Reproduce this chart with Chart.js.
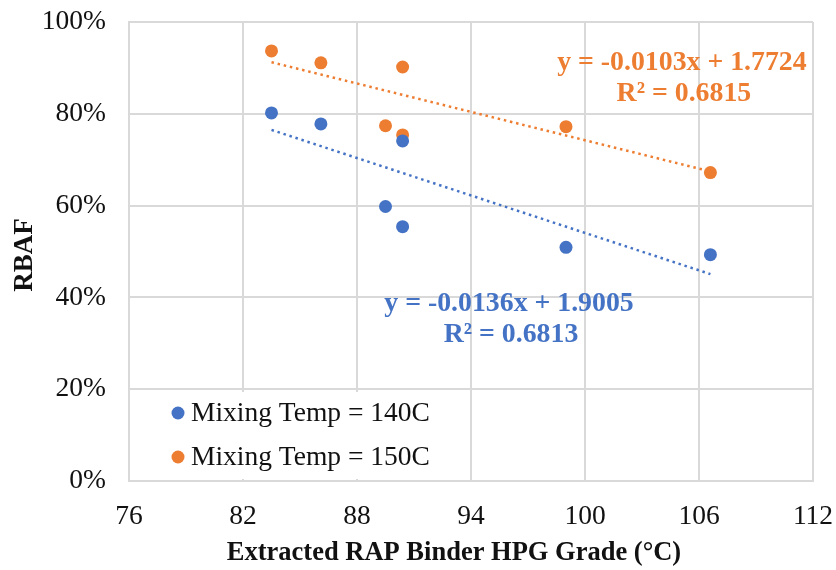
<!DOCTYPE html>
<html>
<head>
<meta charset="utf-8">
<title>RBAF vs RAP binder grade</title>
<script src="https://cdn.jsdelivr.net/npm/chart.js@4"></script>
<style>
  html, body { margin: 0; padding: 0; background: #fff; }
  #wrap { width: 836px; height: 570px; }
</style>
</head>
<body>
<div id="wrap"><canvas id="rbafChart" width="836" height="570"></canvas></div>
<script>
// extracted RAP binder high PG grade (°C)
const binderGrade = [83.5, 86.1, 90.4, 89.5, 90.4, 99.0, 106.6];

// RBAF at each mixing temperature
const rbaf140 = [0.802, 0.778, 0.741, 0.598, 0.554, 0.509, 0.493];
const rbaf150 = [0.937, 0.911, 0.902, 0.774, 0.754, 0.772, 0.672];

const seriesLabels = ["Mixing Temp = 140C", "Mixing Temp = 150C"];

// linear trendlines y = m*x + b
const trendSlope = [-0.0136, -0.0103];
const trendIntercept = [1.9005, 1.7724];
const trendR2 = [0.6813, 0.6815];

const xTicks = [76, 82, 88, 94, 100, 106, 112];
const yTicks = [0, 0.2, 0.4, 0.6, 0.8, 1.0];

const xTitle = "Extracted RAP Binder HPG Grade (°C)";
const yTitle = "RBAF";

const BLUE = "#4472C4";
const ORANGE = "#ED7D31";
const GRID = "#d9d9d9";
const INK = "#111";
const SERIF = "'Liberation Serif', 'Times New Roman', serif";

const toPoints = (xs, ys) => xs.map((x, i) => ({ x: x, y: ys[i] }));

function trendPoints(k) {
  const lo = Math.min(...binderGrade);
  const hi = Math.max(...binderGrade);
  return [lo, hi].map((x) => ({ x: x, y: trendSlope[k] * x + trendIntercept[k] }));
}

function eqText(k) {
  return "y = " + trendSlope[k].toFixed(4) + "x + " + trendIntercept[k].toFixed(4);
}

// no extra room for overhanging tick labels, the layout padding handles it
function fixScale(s, key, size) {
  s[key] = size;
  s.paddingTop = 0;
  s.paddingBottom = 0;
  s.paddingLeft = 0;
  s.paddingRight = 0;
}

// trendline equations, placed in data units
const equationBoxes = [
  { k: 0, x: 96.0, y: 0.387, color: BLUE },
  { k: 1, x: 105.1, y: 0.911, color: ORANGE },
];

const overlayPlugin = {
  id: "overlay",
  beforeDatasetsDraw(chart) {
    const ctx = chart.ctx;
    ctx.save();
    // legend sits inside the plot on a white box
    ctx.fillStyle = "#fff";
    ctx.fillRect(131, 392, 312, 87);
    const colors = [BLUE, ORANGE];
    const rows = [413, 457];
    ctx.font = "27.5px " + SERIF;
    ctx.textBaseline = "middle";
    ctx.textAlign = "left";
    seriesLabels.forEach((label, i) => {
      ctx.fillStyle = colors[i];
      ctx.beginPath();
      ctx.arc(178, rows[i], 6.5, 0, Math.PI * 2);
      ctx.fill();
      ctx.fillStyle = INK;
      ctx.fillText(label, 191, rows[i] + 1);
    });

    // axis titles
    ctx.fillStyle = INK;
    ctx.textAlign = "center";
    ctx.font = "bold 26.5px " + SERIF;
    ctx.fillText(xTitle, 454, 553);
    ctx.font = "bold 27px " + SERIF;
    ctx.translate(25, 255);
    ctx.rotate(-Math.PI / 2);
    ctx.fillText(yTitle, 0, 0);
    ctx.restore();
  },
  afterDatasetsDraw(chart) {
    const ctx = chart.ctx;
    const xs = chart.scales.x;
    const ys = chart.scales.y;
    ctx.save();
    ctx.font = "bold 27.8px " + SERIF;
    ctx.textAlign = "center";
    ctx.textBaseline = "middle";
    equationBoxes.forEach((b) => {
      const px = xs.getPixelForValue(b.x);
      const py = ys.getPixelForValue(b.y);
      ctx.fillStyle = b.color;
      ctx.fillText(eqText(b.k), px, py);
      ctx.fillText("R² = " + trendR2[b.k].toFixed(4), px + 2, py + 31);
    });
    ctx.restore();
  },
};

const ctx = document.getElementById("rbafChart").getContext("2d");
new Chart(ctx, {
  type: "scatter",
  data: {
    datasets: [
      {
        label: seriesLabels[0],
        data: toPoints(binderGrade, rbaf140),
        backgroundColor: BLUE,
        borderColor: BLUE,
        pointRadius: 6.5,
        pointBorderWidth: 0,
        order: 1,
      },
      {
        label: seriesLabels[1],
        data: toPoints(binderGrade, rbaf150),
        backgroundColor: ORANGE,
        borderColor: ORANGE,
        pointRadius: 6.5,
        pointBorderWidth: 0,
        order: 1,
      },
      {
        label: "Linear (140C)",
        data: trendPoints(0),
        showLine: true,
        borderColor: BLUE,
        borderWidth: 2.5,
        borderDash: [2.5, 3.8],
        pointRadius: 0,
        order: 2,
      },
      {
        label: "Linear (150C)",
        data: trendPoints(1),
        showLine: true,
        borderColor: ORANGE,
        borderWidth: 2.5,
        borderDash: [2.5, 3.8],
        pointRadius: 0,
        order: 2,
      },
    ],
  },
  options: {
    responsive: false,
    animation: false,
    layout: { padding: { top: 22, right: 23, left: 0, bottom: 0 } },
    plugins: {
      legend: { display: false },
      tooltip: { enabled: false },
    },
    scales: {
      x: {
        type: "linear",
        min: xTicks[0],
        max: xTicks[xTicks.length - 1],
        afterBuildTicks: (s) => { s.ticks = xTicks.map((v) => ({ value: v })); },
        afterFit: (s) => fixScale(s, "height", 89),
        grid: { color: GRID, lineWidth: 2, drawTicks: false },
        border: { color: GRID, width: 2 },
        ticks: {
          color: INK,
          padding: 19,
          font: { family: SERIF, size: 27.5 },
        },
      },
      y: {
        type: "linear",
        min: 0,
        max: 1,
        afterBuildTicks: (s) => { s.ticks = yTicks.map((v) => ({ value: v })); },
        afterFit: (s) => fixScale(s, "width", 129),
        grid: { color: GRID, lineWidth: 2, drawTicks: false },
        border: { color: GRID, width: 2 },
        ticks: {
          color: INK,
          padding: 23,
          font: { family: SERIF, size: 27.5 },
          callback: (v) => Math.round(v * 100) + "%",
        },
      },
    },
  },
  plugins: [overlayPlugin],
});
</script>
</body>
</html>
